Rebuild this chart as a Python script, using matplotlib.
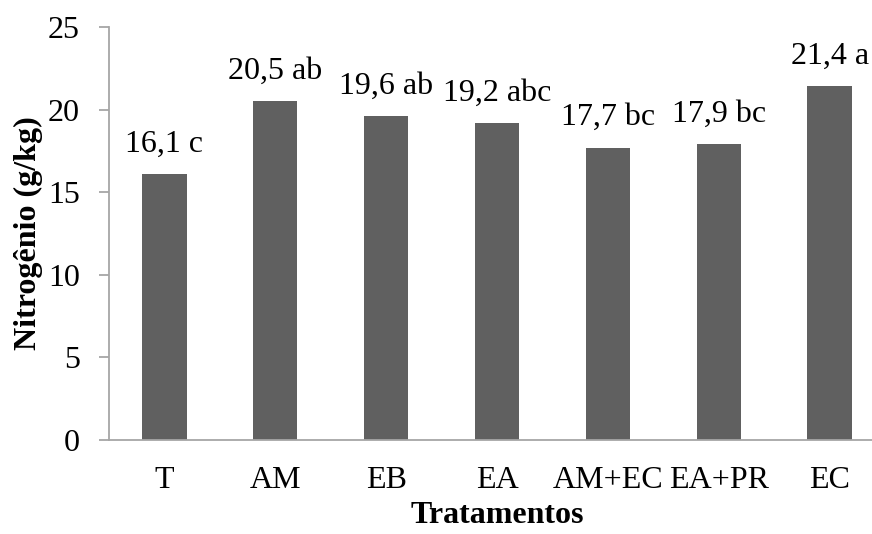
import numpy as np
import matplotlib.pyplot as plt

plt.rcParams['font.family'] = ['Liberation Serif', 'DejaVu Serif']

tratamentos = ['T', 'AM', 'EB', 'EA', 'AM+EC', 'EA+PR', 'EC']
nitrogenio = [16.1, 20.5, 19.6, 19.2, 17.7, 17.9, 21.4]
letras = ['c', 'ab', 'ab', 'abc', 'bc', 'bc', 'a']

W, H = 872, 534
fs = 23
fig = plt.figure(figsize=(W / 100, H / 100), dpi=100)
# axes slightly wider than the figure, the right end is cut off like in the original
ax = fig.add_axes([109 / W, 94 / H, 776 / W, 413 / H])

x = np.arange(len(tratamentos))
ax.bar(x, nitrogenio, width=0.4, color='#606060', zorder=2)

for xi, v, l in zip(x, nitrogenio, letras):
    rotulo = f"{v:.1f}".replace('.', ',') + ' ' + l
    ax.annotate(rotulo, (xi, v), xytext=(0, 11), textcoords='offset points',
                ha='center', va='bottom', fontsize=fs)

ax.set_xlim(-0.5, 6.5)
ax.set_ylim(0, 25)
ax.set_yticks([0, 5, 10, 15, 20, 25])
ax.set_xticks(x)
ax.set_xticklabels(tratamentos)

for s in ['top', 'right']:
    ax.spines[s].set_visible(False)
for s in ['left', 'bottom']:
    ax.spines[s].set_color('#a6a6a6')
    ax.spines[s].set_linewidth(1.3)

ax.tick_params(axis='y', direction='out', length=7, width=1.3, color='#a6a6a6',
               labelsize=fs, pad=14)
ax.tick_params(axis='x', length=0, labelsize=fs, pad=19)

fig.text(28 / W, 1 - 233 / H, 'Nitrogênio (g/kg)', rotation=90, ha='center', va='center',
         fontsize=fs, fontweight='bold')
fig.text(497 / W, 1 - 523 / H, 'Tratamentos', ha='center', va='baseline',
         fontsize=fs, fontweight='bold')

fig.savefig('out.png', dpi=100)
